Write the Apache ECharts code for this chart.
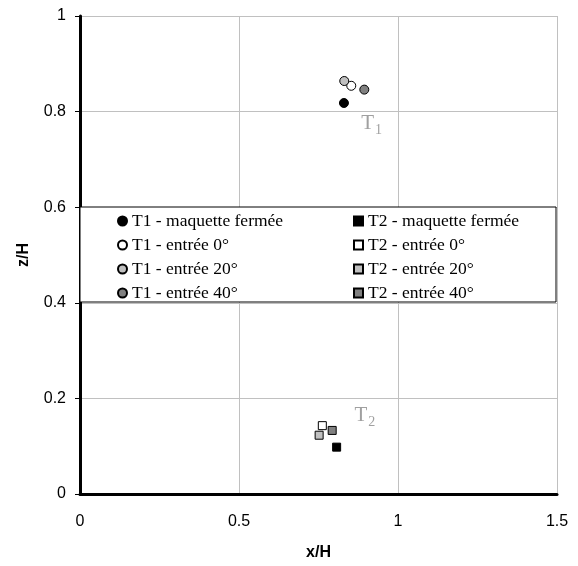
<!DOCTYPE html>
<html><head><meta charset="utf-8">
<script src="https://cdn.jsdelivr.net/npm/echarts@6/dist/echarts.min.js"></script>
<style>html,body{margin:0;padding:0;background:#fff}#c{width:578px;height:566px}</style>
</head><body><div id="c"></div>
<script>
const seriesNames = ['T1 - maquette fermée','T1 - entrée 0°','T1 - entrée 20°','T1 - entrée 40°',
                     'T2 - maquette fermée','T2 - entrée 0°','T2 - entrée 20°','T2 - entrée 40°'];
const seriesX = [0.830, 0.853, 0.831, 0.894, 0.807, 0.762, 0.752, 0.793];
const seriesY = [0.818, 0.854, 0.864, 0.846, 0.098, 0.143, 0.123, 0.133];
const annotationNames = ['1','2'];
const annotationX = [0.917, 0.896];
const annotationY = [0.776, 0.165];
const xTicks = [0, 0.5, 1, 1.5];
const yTicks = [0, 0.2, 0.4, 0.6, 0.8, 1];

const fills = ['#000000','#ffffff','#c0c0c0','#808080','#000000','#ffffff','#c0c0c0','#808080'];
const series = seriesNames.map((n,i)=>({
  name:n, type:'scatter',
  symbol: i<4 ? 'circle' : 'rect',
  symbolSize: i<4 ? 9 : 8,
  itemStyle:{color:fills[i], borderColor:'#000', borderWidth: 1, opacity:1},
  data:[[seriesX[i], seriesY[i]]], z:5
}));
series.push({
  name:'annot', type:'scatter', symbolSize:0, silent:true,
  data: annotationNames.map((s,i)=>({value:[annotationX[i],annotationY[i]], sub:s})),
  label:{show:true, position:'inside',
    formatter: p => '{a|T}{b|' + p.data.sub + '}',
    rich:{a:{fontFamily:'Liberation Serif', fontSize:21, color:'#888888', verticalAlign:'bottom'},
          b:{fontFamily:'Liberation Serif', fontSize:14, color:'#888888', verticalAlign:'bottom', padding:[0,0,-4,1]}}}
});
const legendText = {fontFamily:'Liberation Serif', fontSize:17.5, color:'#000', lineHeight:17};
const chart = echarts.init(document.getElementById('c'), null, {renderer:'canvas'});
chart.setOption({
  animation:false,
  grid:{left:80, right:21, top:16, bottom:72},
  xAxis:{type:'value', min:0, max:1.5, interval:0.5,
    name:'x/H', nameLocation:'middle', nameGap:51,
    nameTextStyle:{fontFamily:'Liberation Sans', fontSize:16, fontWeight:'bold', color:'#000'},
    axisLine:{show:true, onZero:false, lineStyle:{color:'#000', width:3}},
    axisTick:{show:false},
    axisLabel:{margin:20, fontFamily:'Liberation Sans', fontSize:16, color:'#000', formatter:v=>String(v)},
    splitLine:{show:true, lineStyle:{color:'#c0c0c0', width:1}}},
  yAxis:{type:'value', min:0, max:1, interval:0.2,
    name:'z/H', nameLocation:'middle', nameGap:48, nameRotate:90,
    nameTextStyle:{fontFamily:'Liberation Sans', fontSize:16, fontWeight:'bold', color:'#000'},
    axisLine:{show:true, onZero:false, lineStyle:{color:'#000', width:3}},
    axisTick:{show:true, length:5, lineStyle:{color:'#000', width:1}},
    axisLabel:{margin:14, fontFamily:'Liberation Sans', fontSize:16, color:'#000', formatter:v=>String(v)},
    splitLine:{show:true, lineStyle:{color:'#c0c0c0', width:1}}},
  graphic:[{type:'rect', shape:{x:80, y:207, width:476, height:95}, z:3,
    style:{fill:'#fff', stroke:'#000', lineWidth:1}}],
  legend:[
    {data:seriesNames.slice(0,4), orient:'vertical', left:117, top:212, padding:0, itemGap:6,
     itemWidth:9, itemHeight:9, textStyle:legendText, z:10, selectedMode:false},
    {data:seriesNames.slice(4), orient:'vertical', left:353, top:212, padding:0, itemGap:6,
     itemWidth:9, itemHeight:9, textStyle:legendText, z:10, selectedMode:false}
  ],
  series: series
});
</script></body></html>
